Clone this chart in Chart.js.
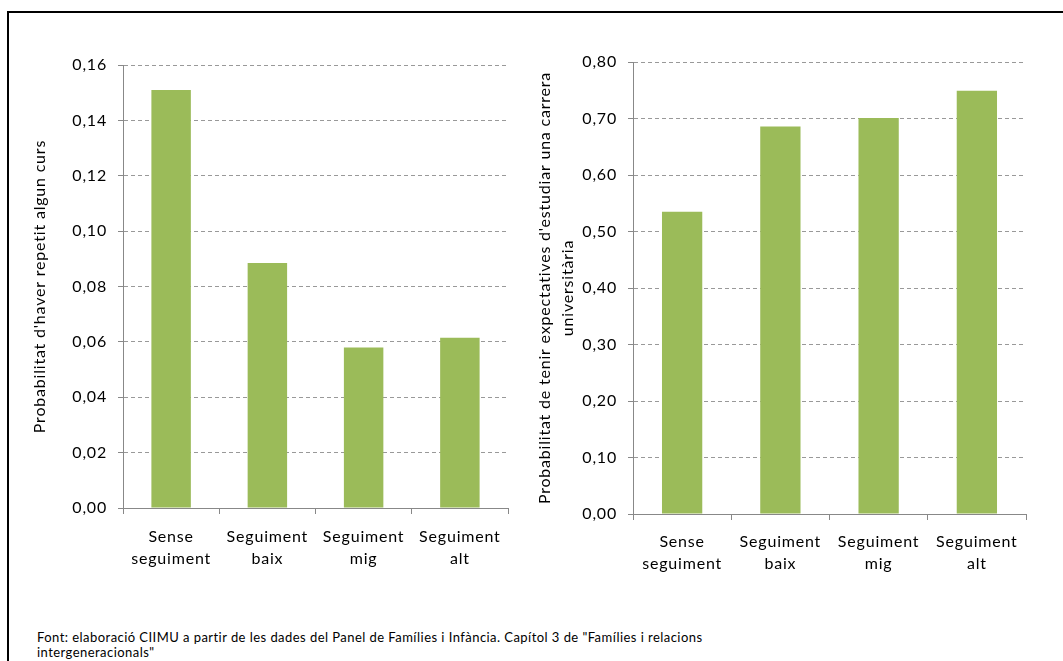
<!DOCTYPE html>
<html>
<head>
<meta charset="utf-8">
<script src="https://cdn.jsdelivr.net/npm/chart.js@4/dist/chart.umd.min.js"></script>
<style>
  html, body { margin: 0; padding: 0; background: #fff; overflow: hidden; }
  body { width: 1063px; height: 661px; position: relative; }
  .frame { position: absolute; left: 7px; top: 11px; width: 1100px; height: 700px; border: 2px solid #000; }
  .chart { position: absolute; top: 40px; height: 560px; }
  #left { left: 20px; width: 500px; }
  #right { left: 525px; width: 538px; }
  .note { position: absolute; left: 37px; top: 630px; font: 13px Lato, sans-serif; line-height: 15px; letter-spacing: 0.45px; color: #000; width: 690px; }
</style>
</head>
<body>
<div class="frame"></div>
<div class="chart" id="left"><canvas id="c1"></canvas></div>
<div class="chart" id="right"><canvas id="c2"></canvas></div>
<div class="note">Font: elaboració CIIMU a partir de les dades del Panel de Famílies i Infància. Capítol 3 de "Famílies i relacions intergeneracionals"</div>
<script>
const categories = [["Sense", "seguiment"], ["Seguiment", "baix"], ["Seguiment", "mig"], ["Seguiment", "alt"]];
const repetitValues = [0.151, 0.0885, 0.058, 0.0615];
const carreraValues = [0.535, 0.686, 0.701, 0.749];
const leftTitle = "Probabilitat d'haver repetit algun curs";
const rightTitle = ["Probabilitat de tenir expectatives d'estudiar una carrera", "universitària"];

const green = "#9bbb59";
const fontFamily = "Lato, sans-serif";

// the Excel text is wider than Lato, so add a bit of spacing on the canvas
const spacing = {
    id: "spacing",
    beforeUpdate: (chart) => { chart.ctx.letterSpacing = "0.8px"; },
    beforeDraw: (chart) => { chart.ctx.letterSpacing = "0.8px"; },
};

function makeChart(id, values, title, maxY, stepY, yWidth, xHeight, padRight, padTop, xPad) {
    return new Chart(document.getElementById(id), {
        type: "bar",
        data: {
            labels: categories,
            datasets: [{
                data: values,
                backgroundColor: green,
                barPercentage: 0.41,
                categoryPercentage: 1,
            }],
        },
        plugins: [spacing],
        options: {
            responsive: true,
            maintainAspectRatio: false,
            animation: false,
            layout: { padding: { left: 0, right: padRight, top: padTop, bottom: 12 } },
            plugins: { legend: { display: false }, tooltip: { enabled: false } },
            scales: {
                x: {
                    grid: { display: true, drawOnChartArea: false, tickLength: 6, color: "#888", offset: true },
                    border: { color: "#888", width: 1 },
                    ticks: { color: "#000", font: { family: fontFamily, size: 16, lineHeight: 1.35 }, padding: xPad, maxRotation: 0 },
                    afterFit: (s) => { s.height = xHeight; },
                },
                y: {
                    min: 0,
                    max: maxY,
                    ticks: {
                        stepSize: stepY,
                        color: "#000",
                        font: { family: fontFamily, size: 16 },
                        padding: 11,
                        callback: (v) => v.toFixed(2).replace(".", ","),
                    },
                    grid: { color: "#999", lineWidth: 1, tickLength: 5, tickColor: "#888", tickBorderDash: [] },
                    border: { color: "#888", width: 1, dash: [4, 3] },
                    title: {
                        display: true,
                        text: title,
                        color: "#000",
                        font: { family: fontFamily, size: 16, lineHeight: 1.45 },
                        padding: { top: 8, bottom: 0 },
                    },
                    afterFit: (s) => { s.width = yWidth; },
                },
            },
        },
    });
}

makeChart("c1", repetitValues, leftTitle, 0.16, 0.02, 103, 80, 12, 25, 12);
makeChart("c2", carreraValues, rightTitle, 0.8, 0.1, 108, 74, 37, 22, 11);
</script>
</body>
</html>
